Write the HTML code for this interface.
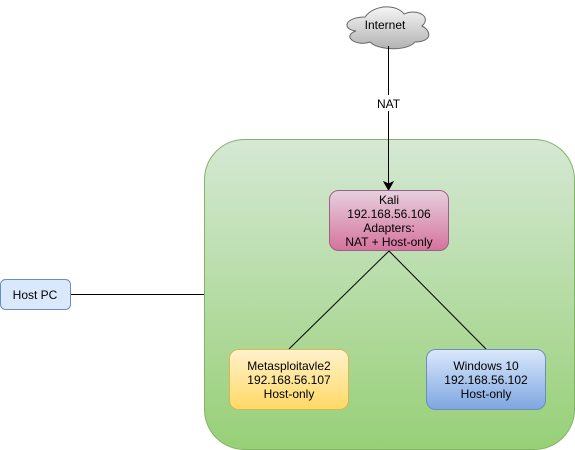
<!DOCTYPE html>
<html><head><style>body{margin:0;background:#fff;}svg{display:block}text{font-family:"Liberation Sans",sans-serif;font-size:12px;fill:#000;text-anchor:middle}</style></head>
<body>
<svg width="575" height="450" viewBox="0 0 575 450" xmlns="http://www.w3.org/2000/svg">
<defs>
<linearGradient id="g" x1="0" y1="0" x2="0" y2="1"><stop offset="0" stop-color="#d5e8d4"/><stop offset="1" stop-color="#97d077"/></linearGradient>
<linearGradient id="p" x1="0" y1="0" x2="0" y2="1"><stop offset="0" stop-color="#e6d0de"/><stop offset="1" stop-color="#d5739d"/></linearGradient>
<linearGradient id="y" x1="0" y1="0" x2="0" y2="1"><stop offset="0" stop-color="#fff2cc"/><stop offset="1" stop-color="#ffd966"/></linearGradient>
<linearGradient id="b" x1="0" y1="0" x2="0" y2="1"><stop offset="0" stop-color="#dae8fc"/><stop offset="1" stop-color="#7ea6e0"/></linearGradient>
<linearGradient id="c" x1="0" y1="0" x2="0" y2="1"><stop offset="0" stop-color="#f5f5f5"/><stop offset="1" stop-color="#b3b3b3"/></linearGradient>
</defs>
<rect x="204.5" y="139.5" width="370" height="310" rx="40" fill="url(#g)" stroke="#82b366"/>
<path d="M365,17 C345,17 341,29 356,31 C341,36 356,47 370,42 C379,51 408,51 415,42 C432,42 432,31 422,26 C432,17 418,8 404,14 C397,4 374,4 365,17 Z" fill="url(#c)" stroke="#666"/>
<text x="385" y="29">Internet</text>
<line x1="388.5" y1="46" x2="388.5" y2="184" stroke="#000"/>
<path d="M384,182 L388.5,190 L393,182 L388.5,184 Z" fill="#000" stroke="#000"/>
<rect x="372" y="95" width="33" height="16" fill="#fff"/>
<text x="388.5" y="108">NAT</text>
<rect x="329.5" y="190.5" width="119" height="60" rx="9" fill="url(#p)" stroke="#996185"/>
<text x="389" y="204">Kali</text>
<text x="389" y="218">192.168.56.106</text>
<text x="389" y="232">Adapters:</text>
<text x="389" y="246">NAT + Host-only</text>
<line x1="389" y1="251" x2="289" y2="349" stroke="#000"/>
<line x1="389" y1="251" x2="486" y2="349" stroke="#000"/>
<rect x="0.5" y="279.5" width="70" height="30" rx="5" fill="#dae8fc" stroke="#6c8ebf"/>
<text x="35" y="299">Host PC</text>
<line x1="71" y1="294.5" x2="204" y2="294.5" stroke="#000"/>
<rect x="229.5" y="349.5" width="119" height="60" rx="9" fill="url(#y)" stroke="#d6b656"/>
<text x="289" y="370">Metasploitavle2</text>
<text x="289" y="384">192.168.56.107</text>
<text x="289" y="398">Host-only</text>
<rect x="426.5" y="349.5" width="119" height="60" rx="9" fill="url(#b)" stroke="#6c8ebf"/>
<text x="486" y="370">Windows 10</text>
<text x="486" y="384">192.168.56.102</text>
<text x="486" y="398">Host-only</text>
</svg>
</body></html>
